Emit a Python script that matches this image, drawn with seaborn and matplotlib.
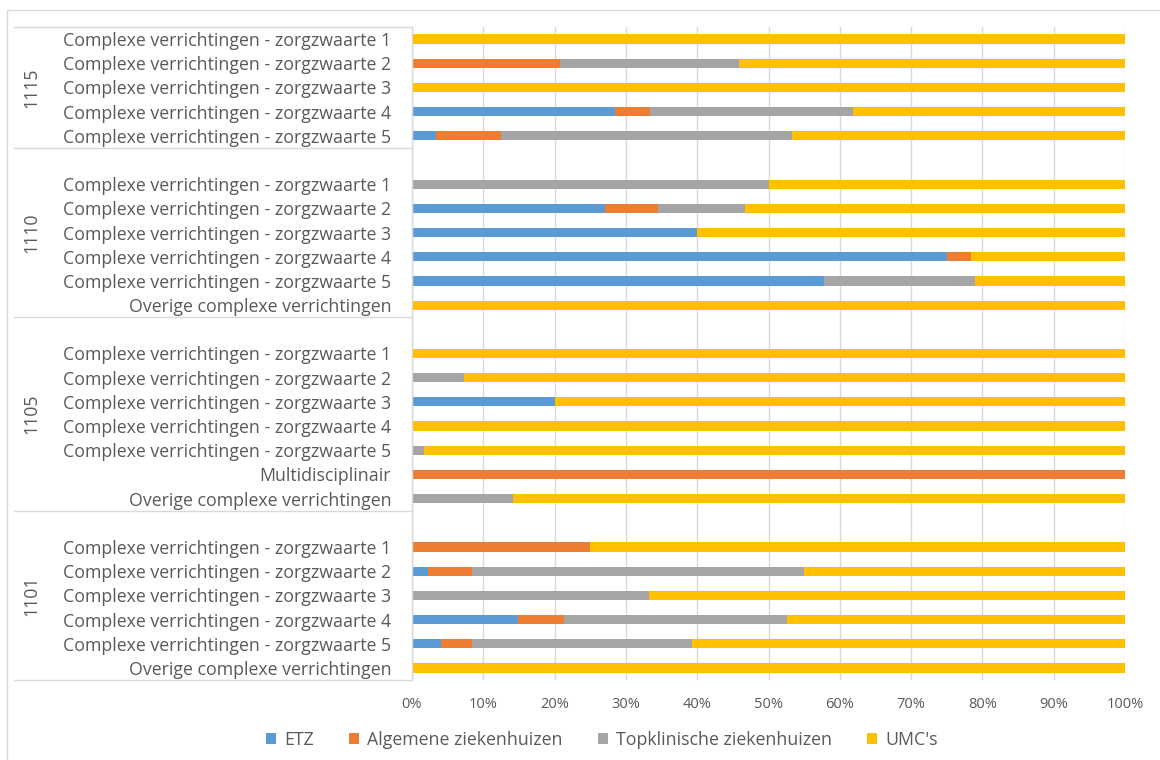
import matplotlib
matplotlib.use("Agg")
import matplotlib.pyplot as plt
import matplotlib.transforms as mtransforms
from matplotlib.patches import Rectangle, Patch
import numpy as np
import pandas as pd
import seaborn as sns

# ---------------- data ----------------
groups = ["1115", "1110", "1105", "1101"]
rows_1115 = ["Complexe verrichtingen - zorgzwaarte 1", "Complexe verrichtingen - zorgzwaarte 2",
             "Complexe verrichtingen - zorgzwaarte 3", "Complexe verrichtingen - zorgzwaarte 4",
             "Complexe verrichtingen - zorgzwaarte 5"]
rows_1110 = ["", "Complexe verrichtingen - zorgzwaarte 1", "Complexe verrichtingen - zorgzwaarte 2",
             "Complexe verrichtingen - zorgzwaarte 3", "Complexe verrichtingen - zorgzwaarte 4",
             "Complexe verrichtingen - zorgzwaarte 5", "Overige complexe verrichtingen"]
rows_1105 = ["", "Complexe verrichtingen - zorgzwaarte 1", "Complexe verrichtingen - zorgzwaarte 2",
             "Complexe verrichtingen - zorgzwaarte 3", "Complexe verrichtingen - zorgzwaarte 4",
             "Complexe verrichtingen - zorgzwaarte 5", "Multidisciplinair",
             "Overige complexe verrichtingen"]
rows_1101 = ["", "Complexe verrichtingen - zorgzwaarte 1", "Complexe verrichtingen - zorgzwaarte 2",
             "Complexe verrichtingen - zorgzwaarte 3", "Complexe verrichtingen - zorgzwaarte 4",
             "Complexe verrichtingen - zorgzwaarte 5", "Overige complexe verrichtingen"]

series = ["ETZ", "Algemene ziekenhuizen", "Topklinische ziekenhuizen", "UMC's"]
# percentages per row (None = empty row)
etz_1115 = [0, 0, 0, 28.5, 3.4]
alg_1115 = [0, 20.8, 0, 4.9, 9.1]
top_1115 = [0, 25.1, 0, 28.5, 40.8]

etz_1110 = [None, 0, 27.1, 40.0, 75.0, 57.8, 0]
alg_1110 = [None, 0, 7.4, 0, 3.4, 0, 0]
top_1110 = [None, 50.0, 12.2, 0, 0, 21.2, 0]

etz_1105 = [None, 0, 0, 20.0, 0, 0, 0, 0]
alg_1105 = [None, 0, 0, 0, 0, 0, 100.0, 0]
top_1105 = [None, 0, 7.3, 0, 0, 1.7, 0, 14.2]

etz_1101 = [None, 0, 2.2, 0, 14.9, 4.1, 0]
alg_1101 = [None, 25.0, 6.2, 0, 6.4, 4.3, 0]
top_1101 = [None, 0, 46.6, 33.3, 31.3, 30.9, 0]

xticks = [0, 10, 20, 30, 40, 50, 60, 70, 80, 90, 100]

colors = ["#5B9BD5", "#ED7D31", "#A5A5A5", "#FFC000"]
text_color = "#595959"

# ---------------- build frame ----------------
all_rows, keys, recs = [], [], []
group_spans = []
blocks = [("1115", rows_1115, etz_1115, alg_1115, top_1115),
          ("1110", rows_1110, etz_1110, alg_1110, top_1110),
          ("1105", rows_1105, etz_1105, alg_1105, top_1105),
          ("1101", rows_1101, etz_1101, alg_1101, top_1101)]
for g, rows, e, a, t in blocks:
    start = len(keys)
    for i, r in enumerate(rows):
        k = f"{g}|{i}"
        keys.append(k)
        all_rows.append(r)
        if e[i] is None:
            continue
        c1 = e[i]
        c2 = c1 + a[i]
        c3 = c2 + t[i]
        recs.append({"key": k, "ETZ": c1, "Algemene ziekenhuizen": c2,
                     "Topklinische ziekenhuizen": c3, "UMC's": 100.0})
    group_spans.append((g, start - 0.5, len(keys) - 0.5))
df = pd.DataFrame(recs)

# ---------------- plot ----------------
sns.set_theme(style="white")
plt.rcParams["font.family"] = ["Open Sans", "DejaVu Sans"]

fig = plt.figure(figsize=(11.6, 7.6), dpi=100)
ax = fig.add_axes([412 / 1160, 1 - 680 / 760, (1125 - 412) / 1160, (680 - 27) / 760])

for s, col in zip(series[::-1], colors[::-1]):
    sub = df[df[s] > 0]
    sns.barplot(data=sub, x=s, y="key", order=keys, orient="h", color=col,
                width=0.38, saturation=1, ax=ax, linewidth=0, errorbar=None)

ax.set_xlim(0, 100)
ax.set_ylim(len(keys) - 0.5, -0.5)
ax.set_xticks(xticks)
ax.set_xticklabels([f"{v}%" for v in xticks], color=text_color, fontsize=10.5)
ax.set_yticks(range(len(keys)))
ax.set_yticklabels(all_rows, color=text_color, fontsize=12.8)
ax.tick_params(axis="y", length=0, pad=15)
ax.tick_params(axis="x", length=0, pad=12)
ax.set_xlabel("")
ax.set_ylabel("")
ax.xaxis.grid(True, color="#D9D9D9", linewidth=1)
ax.set_axisbelow(True)
for sp in ["top", "right", "bottom"]:
    ax.spines[sp].set_visible(False)
ax.spines["left"].set_color("#D9D9D9")
ax.spines["left"].set_linewidth(1)

# group separators and labels
trans = mtransforms.blended_transform_factory(ax.transAxes, ax.transData)
x_left = (14 - 412) / (1125 - 412)
bounds = sorted(set([b for _, s0, s1 in group_spans for b in (s0, s1)]))
for b in bounds:
    ax.plot([x_left, 0], [b, b], transform=trans, color="#D9D9D9", lw=1, clip_on=False)
x_lab = (31 - 412) / (1125 - 412)
for g, s0, s1 in group_spans:
    ax.text(x_lab, (s0 + s1) / 2, g, transform=trans, rotation=90, ha="center", va="center",
            color=text_color, fontsize=12.8)

# legend
handles = [Patch(facecolor=c, edgecolor="none") for c in colors]
fig.legend(handles, series, loc="center", bbox_to_anchor=(0.519, 1 - 740 / 760), ncol=4,
           frameon=False, fontsize=12.8, labelcolor=text_color, handlelength=0.55,
           handleheight=0.55, handletextpad=0.45, columnspacing=2.0)

# outer chart border
fig.patches.append(Rectangle((7 / 1160, -0.01), 1.0, 1 - 10 / 760 + 0.01, transform=fig.transFigure,
                             fill=False, edgecolor="#D9D9D9", lw=1))

fig.savefig("out.png", dpi=100)
